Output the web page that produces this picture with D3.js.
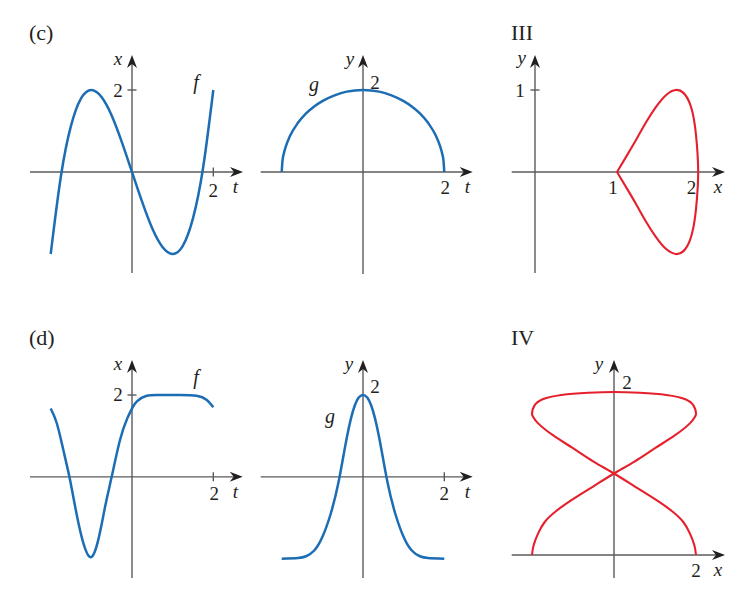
<!DOCTYPE html>
<html><head><meta charset="utf-8">
<script src="https://cdn.jsdelivr.net/npm/d3@7"></script>
<style>
body{margin:0;background:#fff}
svg{display:block}
</style>
</head><body>
<svg id="chart" width="755" height="604"></svg>
<script>
// ---------- data ----------
// (c) x = f(t)
const cF_t = [-2,-1.75,-1.5,-1.25,-1,-0.75,-0.5,-0.25,0,0.25,0.5,0.75,1,1.25,1.5,1.75,2];
const cF_x = [-2,-0.11,1.13,1.8,2,1.83,1.38,0.73,0,-0.73,-1.38,-1.83,-2,-1.8,-1.13,0.11,2];
// (c) y = g(t)
const cG_t = [-2,-1.98,-1.95,-1.9,-1.8,-1.6,-1.4,-1.2,-1,-0.7,-0.4,0,0.4,0.7,1,1.2,1.4,1.6,1.8,1.9,1.95,1.98,2];
const cG_y = [0,0.28,0.44,0.62,0.87,1.2,1.43,1.6,1.73,1.87,1.96,2,1.96,1.87,1.73,1.6,1.43,1.2,0.87,0.62,0.44,0.28,0];
// III curve
const c3_x = [1,1.12,1.24,1.36,1.48,1.6,1.715,1.81,1.89,1.945,1.976,1.99,1.976,1.945,1.89,1.81,1.715,1.6,1.48,1.36,1.24,1.12,1];
const c3_y = [0,0.2,0.405,0.615,0.8,0.94,1.0,0.965,0.83,0.6,0.31,0,-0.31,-0.6,-0.83,-0.965,-1.0,-0.94,-0.8,-0.615,-0.405,-0.2,0];
// (d) x = f(t)
const dF_t = [-2,-1.85,-1.69,-1.54,-1.4,-1.24,-1.03,-0.83,-0.66,-0.5,-0.295,-0.115,0,0.115,0.36,0.69,1.18,1.59,1.84,2];
const dF_x = [1.67,1.31,0.66,0,-0.72,-1.46,-1.96,-1.54,-0.72,0,0.9,1.43,1.67,1.84,1.98,2,2,1.98,1.88,1.7];
// (d) y = g(t)
const dG_t = [-2,-1.6,-1.4,-1.2,-1,-0.8,-0.6,-0.4,-0.2,0,0.2,0.4,0.6,0.8,1,1.2,1.4,1.6,2];
const dG_y = [-2,-1.985,-1.94,-1.8,-1.47,-0.92,-0.12,0.95,1.75,2,1.75,0.95,-0.12,-0.92,-1.47,-1.8,-1.94,-1.985,-2];
// IV curve
const c4_x = [-2,-1.96,-1.85,-1.69,-1.41,-1,-0.51,0,0.51,1,1.49,1.85,1.975,2,1.945,1.74,1.28,0.63,0,-0.63,-1.28,-1.74,-1.945,-2,-1.975,-1.85,-1.49,-1,-0.51,0,0.51,1,1.41,1.69,1.85,1.96,2];
const c4_y = [0,0.12,0.265,0.405,0.54,0.685,0.84,1,1.15,1.31,1.47,1.615,1.697,1.74,1.83,1.91,1.963,1.99,2,1.99,1.963,1.91,1.83,1.74,1.697,1.615,1.47,1.31,1.15,1,0.84,0.685,0.54,0.405,0.265,0.12,0];

// tick labels
const tickLabels = {c_f_x:["2"], c_f_y:["2"], c_g_x:["2"], c_g_y:["2"], III_x:["1","2"], III_y:["1"], d_f_x:["2"], d_f_y:["2"], d_g_x:["2"], d_g_y:["2"], IV_x:["2"], IV_y:["2"]};
const tickVals = {c_f_x:[2], c_f_y:[2], c_g_x:[2], c_g_y:[2], III_x:[1,2], III_y:[1], d_f_x:[2], d_f_y:[2], d_g_x:[2], d_g_y:[2], IV_x:[2], IV_y:[2]};

// ---------- drawing ----------
const svg = d3.select("#chart");
const FONT = "'Liberation Serif', 'DejaVu Serif', serif";
const BLUE = "#1c6db4", RED = "#e5202c", AX = "#5b5b5b", INK = "#231f20";
const ARROW = "M0,0 L-13,-5 L-9,0 L-13,5 Z";

function txt(g, s, x, y, size, italic, anchor) {
  return g.append("text").text(s).attr("x", x).attr("y", y)
    .attr("font-family", FONT).attr("font-size", size).attr("fill", INK)
    .attr("font-style", italic ? "italic" : "normal").attr("text-anchor", anchor || "middle");
}

function panel(cfg) {
  const g = svg.append("g");
  const xs = cfg.xs, ys = cfg.ys;
  const x0 = xs(0), y0 = ys(0);
  g.append("line").attr("x1", cfg.h[0]).attr("x2", cfg.h[1] - 8).attr("y1", y0).attr("y2", y0)
    .attr("stroke", AX).attr("stroke-width", 1.4);
  g.append("path").attr("d", ARROW).attr("fill", INK)
    .attr("transform", `translate(${cfg.h[1]},${y0})`);
  g.append("line").attr("x1", x0).attr("x2", x0).attr("y1", cfg.v[0]).attr("y2", cfg.v[1] + 8)
    .attr("stroke", AX).attr("stroke-width", 1.4);
  g.append("path").attr("d", ARROW).attr("fill", INK)
    .attr("transform", `translate(${x0},${cfg.v[1]}) rotate(-90)`);
  (cfg.xTickMarks || []).forEach(v => g.append("line").attr("x1", xs(v)).attr("x2", xs(v))
    .attr("y1", y0 - 4.5).attr("y2", y0 + 4.5).attr("stroke", AX).attr("stroke-width", 1.4));
  (cfg.yTickMarks || []).forEach(v => g.append("line").attr("x1", x0 - 4.5).attr("x2", x0 + 4.5)
    .attr("y1", ys(v)).attr("y2", ys(v)).attr("stroke", AX).attr("stroke-width", 1.4));
  tickVals[cfg.key + "_x"].forEach((v, i) =>
    txt(g, tickLabels[cfg.key + "_x"][i], xs(v) + (cfg.xLabDx ? cfg.xLabDx[i] : 0), y0 + cfg.xLabDy, 19, false));
  tickVals[cfg.key + "_y"].forEach((v, i) =>
    txt(g, tickLabels[cfg.key + "_y"][i], x0 + cfg.yLabDx, ys(v) + cfg.yLabDy, 19, false));
  txt(g, cfg.hName, cfg.hNamePos[0], cfg.hNamePos[1], 19, true);
  txt(g, cfg.vName, cfg.vNamePos[0], cfg.vNamePos[1], 19, true);
  if (cfg.fname) txt(g, cfg.fname, cfg.fnamePos[0], cfg.fnamePos[1], 20, true);
  if (cfg.title) txt(g, cfg.title, cfg.titlePos[0], cfg.titlePos[1], 22, false, "start");
  const pts = cfg.px.map((p, i) => [p, cfg.py[i]]);
  const line = d3.line().x(d => xs(d[0])).y(d => ys(d[1])).curve(cfg.curve);
  g.append("path").attr("d", line(pts)).attr("fill", "none")
    .attr("stroke", cfg.color).attr("stroke-width", cfg.color === BLUE ? 2.5 : 2.1)
    .attr("stroke-linejoin", "round");
}

// (c) f
panel({key:"c_f", xs:d3.scaleLinear([-2,2],[50.7,213.3]), ys:d3.scaleLinear([-2,2],[254,90]),
  h:[30,243], v:[273,55], xTickMarks:[2], yTickMarks:[2], xLabDy:25, yLabDx:-14, yLabDy:7,
  hName:"t", hNamePos:[235.5,193], vName:"x", vNamePos:[118,65], fname:"f", fnamePos:[196,89],
  title:"(c)", titlePos:[29,40], px:cF_t, py:cF_x, color:BLUE, curve:d3.curveNatural});
// (c) g
panel({key:"c_g", xs:d3.scaleLinear([-2,2],[281.7,444.3]), ys:d3.scaleLinear([0,2],[172,90]),
  h:[260.7,472.7], v:[274,55], xLabDy:22, xLabDx:[1], yLabDx:12, yLabDy:-1,
  hName:"t", hNamePos:[467.5,193], vName:"y", vNamePos:[350,65], fname:"g", fnamePos:[314,91],
  px:cG_t, py:cG_y, color:BLUE, curve:d3.curveMonotoneX});
// III
panel({key:"III", xs:d3.scaleLinear([0,2],[535,699]), ys:d3.scaleLinear([-1,1],[254,90]),
  h:[511.7,725], v:[273,55], yTickMarks:[1], xLabDy:22, xLabDx:[-4,-7.5], yLabDx:-15, yLabDy:7,
  hName:"x", hNamePos:[718,193], vName:"y", vNamePos:[521.7,64],
  title:"III", titlePos:[511,39.5], px:c3_x, py:c3_y, color:RED, curve:d3.curveNatural});
// (d) f
panel({key:"d_f", xs:d3.scaleLinear([-2,2],[50.7,213.3]), ys:d3.scaleLinear([-2,2],[558.7,395]),
  h:[30,242.7], v:[578,360], xTickMarks:[2], yTickMarks:[2], xLabDy:23.5, xLabDx:[1], yLabDx:-14, yLabDy:6,
  hName:"t", hNamePos:[235.5,498], vName:"x", vNamePos:[118,370], fname:"f", fnamePos:[196,384],
  title:"(d)", titlePos:[29,345], px:dF_t, py:dF_x, color:BLUE, curve:d3.curveNatural});
// (d) g
panel({key:"d_g", xs:d3.scaleLinear([-2,2],[281.7,444.3]), ys:d3.scaleLinear([-2,2],[558.7,395]),
  h:[260.7,472.7], v:[578,360], xTickMarks:[2], xLabDy:23.5, yLabDx:12, yLabDy:-2,
  hName:"t", hNamePos:[467.5,498], vName:"y", vNamePos:[349,370], fname:"g", fnamePos:[330,423],
  px:dG_t, py:dG_y, color:BLUE, curve:d3.curveNatural});
// IV
panel({key:"IV", xs:d3.scaleLinear([-2,2],[532,696]), ys:d3.scaleLinear([0,2],[555,392]),
  h:[511.7,725], v:[578,360], xLabDy:22, yLabDx:13, yLabDy:-3,
  hName:"x", hNamePos:[718,576], vName:"y", vNamePos:[599,370],
  title:"IV", titlePos:[511,345], px:c4_x, py:c4_y, color:RED, curve:d3.curveNatural});
</script>
</body></html>
